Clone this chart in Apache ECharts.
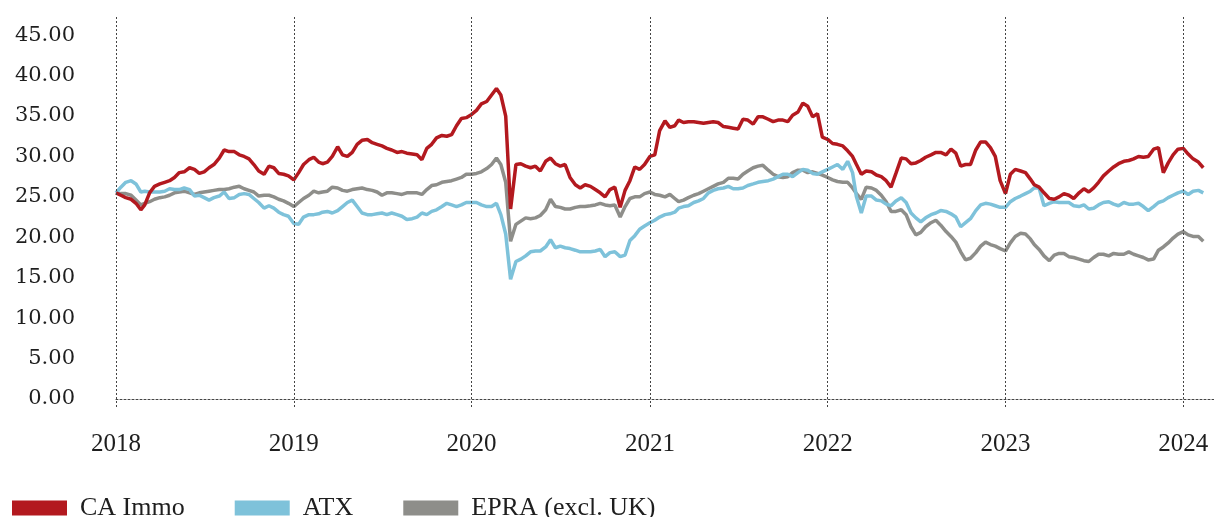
<!DOCTYPE html>
<html>
<head>
<meta charset="utf-8">
<script src="https://cdn.jsdelivr.net/npm/echarts@6/dist/echarts.min.js"></script>
<style>
html,body{margin:0;padding:0;background:#fff;}
#chart{width:1214px;height:517px;}
</style>
</head>
<body>
<div id="chart"></div>
<script>
// Sample dates (1st, 11th, 21st of each month)
const dates = [
'2018-01-01','2018-01-11','2018-01-21','2018-02-01','2018-02-11','2018-02-21','2018-03-01','2018-03-11','2018-03-21','2018-04-01','2018-04-11','2018-04-21',
'2018-05-01','2018-05-11','2018-05-21','2018-06-01','2018-06-11','2018-06-21','2018-07-01','2018-07-11','2018-07-21','2018-08-01','2018-08-11','2018-08-21',
'2018-09-01','2018-09-11','2018-09-21','2018-10-01','2018-10-11','2018-10-21','2018-11-01','2018-11-11','2018-11-21','2018-12-01','2018-12-11','2018-12-21',
'2019-01-01','2019-01-11','2019-01-21','2019-02-01','2019-02-11','2019-02-21','2019-03-01','2019-03-11','2019-03-21','2019-04-01','2019-04-11','2019-04-21',
'2019-05-01','2019-05-11','2019-05-21','2019-06-01','2019-06-11','2019-06-21','2019-07-01','2019-07-11','2019-07-21','2019-08-01','2019-08-11','2019-08-21',
'2019-09-01','2019-09-11','2019-09-21','2019-10-01','2019-10-11','2019-10-21','2019-11-01','2019-11-11','2019-11-21','2019-12-01','2019-12-11','2019-12-21',
'2020-01-01','2020-01-11','2020-01-21','2020-02-01','2020-02-11','2020-02-21','2020-03-01','2020-03-11','2020-03-21','2020-04-01','2020-04-11','2020-04-21',
'2020-05-01','2020-05-11','2020-05-21','2020-06-01','2020-06-11','2020-06-21','2020-07-01','2020-07-11','2020-07-21','2020-08-01','2020-08-11','2020-08-21',
'2020-09-01','2020-09-11','2020-09-21','2020-10-01','2020-10-11','2020-10-21','2020-11-01','2020-11-11','2020-11-21','2020-12-01','2020-12-11','2020-12-21',
'2021-01-01','2021-01-11','2021-01-21','2021-02-01','2021-02-11','2021-02-21','2021-03-01','2021-03-11','2021-03-21','2021-04-01','2021-04-11','2021-04-21',
'2021-05-01','2021-05-11','2021-05-21','2021-06-01','2021-06-11','2021-06-21','2021-07-01','2021-07-11','2021-07-21','2021-08-01','2021-08-11','2021-08-21',
'2021-09-01','2021-09-11','2021-09-21','2021-10-01','2021-10-11','2021-10-21','2021-11-01','2021-11-11','2021-11-21','2021-12-01','2021-12-11','2021-12-21',
'2022-01-01','2022-01-11','2022-01-21','2022-02-01','2022-02-11','2022-02-21','2022-03-01','2022-03-11','2022-03-21','2022-04-01','2022-04-11','2022-04-21',
'2022-05-01','2022-05-11','2022-05-21','2022-06-01','2022-06-11','2022-06-21','2022-07-01','2022-07-11','2022-07-21','2022-08-01','2022-08-11','2022-08-21',
'2022-09-01','2022-09-11','2022-09-21','2022-10-01','2022-10-11','2022-10-21','2022-11-01','2022-11-11','2022-11-21','2022-12-01','2022-12-11','2022-12-21',
'2023-01-01','2023-01-11','2023-01-21','2023-02-01','2023-02-11','2023-02-21','2023-03-01','2023-03-11','2023-03-21','2023-04-01','2023-04-11','2023-04-21',
'2023-05-01','2023-05-11','2023-05-21','2023-06-01','2023-06-11','2023-06-21','2023-07-01','2023-07-11','2023-07-21','2023-08-01','2023-08-11','2023-08-21',
'2023-09-01','2023-09-11','2023-09-21','2023-10-01','2023-10-11','2023-10-21','2023-11-01','2023-11-11','2023-11-21','2023-12-01','2023-12-11','2023-12-21',
'2024-01-01','2024-01-11','2024-01-21','2024-02-01','2024-02-11'
];

const caImmo = [
25.5,25.2,24.9, 24.7,24.2,23.4, 24.0,25.5,26.3, 26.6,26.8,27.0, 27.4,28.0,28.1, 28.6,28.4,27.9, 28.1,28.6,29.0, 29.8,30.8,30.6, 30.6,30.2,30.0, 29.7,29.0,28.2, 27.8,28.8,28.6, 27.9,27.8,27.6,
27.1,28.0,29.0, 29.6,29.9,29.3, 29.1,29.3,30.0, 31.2,30.2,30.0, 30.5,31.5,32.0, 32.1,31.7,31.5, 31.3,31.0,30.8, 30.5,30.6,30.4, 30.3,30.2,29.6, 31.0,31.5,32.3, 32.6,32.5,32.7, 33.8,34.7,34.8,
35.2,35.7,36.5, 36.8,37.6,38.4, 37.6,35.0,23.5, 29.0,29.1,28.8, 28.6,28.8,28.2, 29.4,29.8,29.1, 28.8,29.0,27.4, 26.5,26.1,26.5, 26.3,25.9,25.5, 25.0,25.9,26.2, 23.7,25.8,27.0, 28.7,28.4,29.0,
30.0,30.2,33.2, 34.4,33.6,33.8, 34.5,34.2,34.3, 34.3,34.2,34.1, 34.2,34.3,34.2, 33.7,33.6,33.5, 33.4,34.6,34.5, 34.0,34.9,34.9, 34.6,34.3,34.5, 34.5,34.3,35.1, 35.5,36.6,36.2, 34.9,35.3,32.4,
32.1,31.6,31.5, 31.3,30.7,30.0, 29.0,27.8,28.2, 28.1,27.7,27.5, 27.0,26.2,27.9, 29.8,29.7,29.1, 29.2,29.5,29.9, 30.2,30.5,30.5, 30.2,30.9,30.4, 28.8,29.0,29.0, 30.8,31.8,31.8, 31.1,30.0,27.0,
25.4,27.8,28.4, 28.2,28.0,27.2, 26.5,26.2,25.5, 24.8,24.7,25.0, 25.4,25.2,24.8, 25.5,26.0,25.6, 26.1,26.8,27.6, 28.2,28.7,29.1, 29.4,29.5,29.7, 30.0,29.9,30.0, 30.9,31.1,28.0, 29.2,30.2,30.9,
31.0,30.3,29.7, 29.3,28.6
];

const atx = [
25.5,26.2,26.8, 27.0,26.6,25.6, 25.7,25.6,25.6, 25.6,25.7,26.0, 25.9,25.9,26.1, 25.9,25.1,25.2, 24.9,24.6,24.9, 25.1,25.6,24.8, 24.9,25.3,25.4, 25.3,24.8,24.3, 23.6,23.9,23.6, 23.1,22.8,22.6,
21.7,21.6,22.5, 22.8,22.8,22.9, 23.1,23.2,23.0, 23.3,23.8,24.3, 24.6,23.8,23.0, 22.8,22.8,22.9, 23.0,22.8,23.0, 22.8,22.6,22.2, 22.3,22.5,23.0, 22.8,23.2,23.4, 23.8,24.2,24.0, 23.8,24.0,24.3,
24.3,24.3,24.0, 23.8,23.8,24.2, 22.8,20.4,14.8, 17.0,17.3,17.7, 18.2,18.3,18.3, 18.8,19.7,18.7, 18.9,18.7,18.6, 18.4,18.2,18.2, 18.2,18.3,18.5, 17.6,18.1,18.2, 17.6,17.8,19.6, 20.2,21.0,21.4,
21.8,22.1,22.5, 22.8,22.9,23.1, 23.6,23.8,23.9, 24.3,24.5,24.8, 25.5,25.8,26.0, 26.1,26.3,26.0, 26.0,26.1,26.4, 26.6,26.8,26.9, 27.0,27.2,27.5, 27.8,27.8,27.5, 28.0,28.4,28.3, 27.9,27.8,28.1,
28.4,28.7,29.0, 28.4,29.4,28.0, 25.0,23.0,25.1, 25.1,24.6,24.5, 24.1,23.9,24.5, 24.9,24.3,23.0, 22.4,21.9,22.4, 22.8,23.0,23.3, 23.2,22.9,22.5, 21.3,21.8,22.3, 23.3,24.0,24.2, 24.1,23.9,23.7,
23.7,24.4,24.8, 25.1,25.4,25.7, 26.1,26.1,23.9, 24.2,24.4,24.3, 24.3,24.3,23.9, 23.8,24.0,23.5, 23.6,24.0,24.3, 24.4,24.1,23.9, 24.3,24.1,24.1, 24.2,23.8,23.3, 23.8,24.3,24.5, 24.9,25.2,25.5,
25.7,25.3,25.7, 25.8,25.5
];

const epra = [
25.5,25.4,25.4, 25.2,24.6,24.0, 24.2,24.4,24.7, 24.9,25.0,25.2, 25.5,25.6,25.7, 25.5,25.3,25.5, 25.6,25.7,25.8, 25.9,25.9,26.0, 26.2,26.3,26.0, 25.8,25.6,25.1, 25.2,25.2,25.0, 24.7,24.5,24.2,
23.8,24.3,24.8, 25.2,25.7,25.5, 25.6,25.7,26.2, 26.1,25.8,25.7, 25.9,26.0,26.1, 25.9,25.8,25.6, 25.2,25.5,25.5, 25.4,25.3,25.5, 25.5,25.5,25.3, 25.9,26.4,26.5, 26.8,26.9,27.0, 27.2,27.4,27.8,
27.8,27.9,28.1, 28.5,29.0,29.8, 29.0,26.8,19.5, 21.6,22.0,22.4, 22.3,22.4,22.7, 23.4,24.7,23.8, 23.7,23.5,23.5, 23.7,23.8,23.8, 23.9,24.0,24.2, 24.0,23.9,24.0, 22.5,23.8,24.8, 25.0,25.0,25.4,
25.6,25.3,25.2, 25.0,25.3,24.8, 24.4,24.6,24.9, 25.2,25.4,25.7, 26.0,26.3,26.6, 26.8,27.3,27.3, 27.2,27.8,28.2, 28.6,28.8,28.9, 28.3,27.8,27.5, 27.4,27.5,28.0, 28.3,28.3,28.0, 28.1,27.9,27.7,
27.4,27.1,26.9, 26.8,26.8,26.1, 25.4,24.7,26.2, 26.1,25.8,25.2, 24.4,23.2,23.2, 23.4,22.8,21.3, 20.3,20.6,21.3, 21.8,22.1,21.5, 20.7,20.1,19.4, 18.2,17.2,17.4, 18.1,18.9,19.4, 19.1,18.9,18.6,
18.3,19.3,20.1, 20.5,20.4,19.8, 19.1,18.5,17.7, 17.1,17.8,18.0, 18.0,17.6,17.5, 17.3,17.1,17.0, 17.5,17.9,17.9, 17.7,18.0,17.9, 17.9,18.2,17.9, 17.7,17.5,17.2, 17.3,18.4,18.8, 19.3,19.9,20.4,
20.7,20.3,20.1, 20.1,19.5
];

const seriesNames = ['CA Immo', 'ATX', 'EPRA (excl. UK)'];
const yearTicks = ['2018-01-01','2019-01-01','2020-01-01','2021-01-01','2022-01-01','2023-01-01','2024-01-01'];
const yTickValues = [0, 5, 10, 15, 20, 25, 30, 35, 40, 45];

const COLORS = { red: '#B3191F', blue: '#7EC2DA', gray: '#8E8E8A' };
const zip = arr => dates.map((d, i) => [d, arr[i]]);
const DAY = 86400000;

const chart = echarts.init(document.getElementById('chart'), null, { renderer: 'canvas' });
const dash = { type: [2, 2], color: '#444', width: 1 };

chart.setOption({
  animation: false,
  backgroundColor: '#fff',
  grid: { left: 116, right: 0, top: 15, bottom: 110, containLabel: false },
  legend: {
    data: seriesNames,
    left: 12,
    top: 495,
    padding: 0,
    icon: 'rect',
    itemWidth: 55,
    itemHeight: 15,
    itemGap: 50,
    textStyle: { fontFamily: 'Liberation Serif', fontSize: 26, color: '#1e1e1e', padding: [0, 0, 0, 8] }
  },
  xAxis: {
    type: 'time',
    min: '2018-01-01',
    max: '2024-03-04',
    minInterval: 365 * DAY,
    maxInterval: 366 * DAY,
    axisLine: { show: true, lineStyle: dash },
    axisTick: { show: false },
    splitLine: { show: false },
    axisLabel: {
      formatter: v => String(new Date(v).getFullYear()),
      fontFamily: 'Liberation Serif',
      fontSize: 25,
      color: '#1e1e1e',
      margin: 25,
      showMinLabel: true,
      showMaxLabel: false
    }
  },
  yAxis: {
    type: 'value',
    min: -1,
    max: 47.5,
    axisLine: { show: false },
    axisTick: { show: false },
    splitLine: { show: false },
    axisLabel: {
      customValues: yTickValues,
      formatter: v => v.toFixed(2),
      fontFamily: 'DejaVu Serif',
      fontSize: 21,
      color: '#1e1e1e',
      margin: 41
    }
  },
  series: [
    {
      name: 'EPRA (excl. UK)', type: 'line', data: zip(epra), showSymbol: false,
      itemStyle: { color: COLORS.gray }, lineStyle: { width: 3.5, color: COLORS.gray }, z: 2,
      markLine: {
        silent: true, symbol: 'none', label: { show: false },
        lineStyle: dash,
        data: yearTicks.map(d => ({ xAxis: d }))
      }
    },
    {
      name: 'ATX', type: 'line', data: zip(atx), showSymbol: false,
      itemStyle: { color: COLORS.blue }, lineStyle: { width: 3.5, color: COLORS.blue }, z: 3
    },
    {
      name: 'CA Immo', type: 'line', data: zip(caImmo), showSymbol: false,
      itemStyle: { color: COLORS.red }, lineStyle: { width: 3.5, color: COLORS.red }, z: 4
    }
  ]
});
</script>
</body>
</html>
